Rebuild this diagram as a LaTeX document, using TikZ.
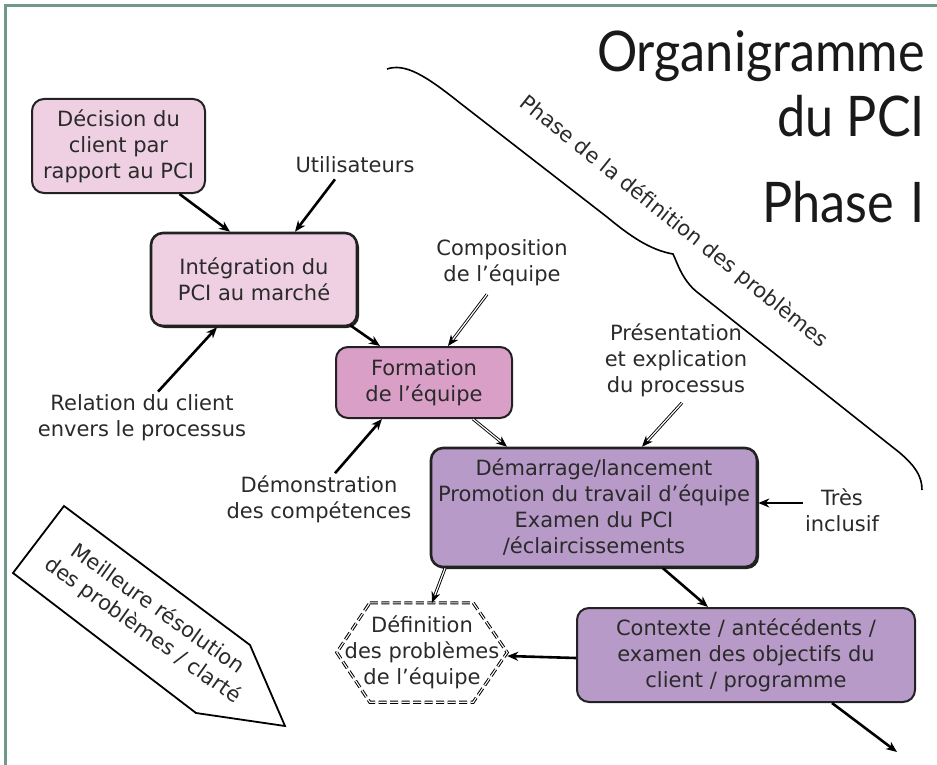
\documentclass[tikz,border=0pt]{standalone}
\usepackage{fontspec}
\setmainfont{DejaVu Sans}
\newfontfamily\titlefont{Lato}
\usetikzlibrary{arrows.meta,calc,shadows}
\definecolor{frm}{HTML}{6F9A8B}
\definecolor{pinkA}{HTML}{EFD0E3}
\definecolor{pinkB}{HTML}{DA9FC7}
\definecolor{purp}{HTML}{B79AC8}
\definecolor{bord}{HTML}{222222}
\definecolor{ink}{HTML}{2A2A2A}
\begin{document}
\begin{tikzpicture}[x=1pt,y=-1pt,
  every node/.style={font=\fontsize{21}{26}\selectfont, text=ink, align=center, inner sep=0pt},
  box/.style={draw=bord, line width=2pt, rounded corners=12pt},
  bbox/.style={box, line width=2.6pt, drop shadow={shadow xshift=2pt, shadow yshift=-2pt, fill=bord, opacity=1}},
  lbl/.style={inner sep=2pt},
  ttl/.style={font=\titlefont\fontsize{56}{60}\selectfont, text=black!90, anchor=base east, xscale=0.9},
  arr/.style={-{Stealth[length=11pt,width=9pt]}, line width=2.6pt},
  darr/.style={-{Stealth[length=11pt,width=9pt]}, double, double distance=1.2pt, line width=0.9pt},
  hexd/.style={double, double distance=1.1pt, line width=1pt, dash pattern=on 8pt off 3.5pt},
  brace/.style={line width=1.6pt},
]
\useasboundingbox (0,0) rectangle (937,765);
% frame
\draw[frm, line width=3pt] (5,765) -- (5,6) -- (937,6);

% title
\node[ttl] (t1) at (925,72) {Organigramme};
\node[ttl] (t2) at (925,137) {du PCI};
\node[ttl] (t3) at (925,222) {Phase\,\,I};

% brace
\draw[brace] (387,69) .. controls (405,63) and (425,75) .. (460,103)
  -- (607,217) .. controls (630,236) and (650,250) .. (673,254)
  .. controls (677,262) and (682,280) .. (697,292)
  -- (900,453) .. controls (915,466) and (922,476) .. (922,490);
\node[rotate=-38.7] (bt) at (674,222) {Phase de la définition des problèmes};

% boxes
\node[box, fill=pinkA, minimum width=173pt, minimum height=94pt] (b1) at (118.5,146) {Décision du\\client par\\rapport au PCI};
\node[bbox, fill=pinkA, minimum width=206pt, minimum height=93pt] (b2) at (254,279.5) {Intégration du\\PCI au marché};
\node[box, fill=pinkB, minimum width=176pt, minimum height=71pt] (b3) at (424,382.5) {Formation\\de l’équipe};
\node[bbox, fill=purp, minimum width=326pt, minimum height=119pt] (b4) at (594,507.5) {Démarrage/lancement\\Promotion du travail d’équipe\\Examen du PCI\\/éclaircissements};
\node[box, fill=purp, minimum width=338pt, minimum height=94pt] (b5) at (746,655) {Contexte / antécédents /\\examen des objectifs du\\client / programme};

% hexagon
\node[minimum width=170pt, minimum height=99pt] (hx) at (422,652.5) {Définition\\des problèmes\\de l’équipe};
\draw[hexd] ($(hx.north west)+(33,0)$) -- ($(hx.north east)+(-34,0)$) -- (hx.east)
  -- ($(hx.south east)+(-34,0)$) -- ($(hx.south west)+(33,0)$) -- (hx.west) -- cycle;

% labels
\node[lbl] (util) at (355,165) {Utilisateurs};
\node[lbl] (comp) at (502,263) {Composition\\de l’équipe};
\node[lbl] (pres) at (676,360) {Présentation\\et explication\\du processus};
\node[lbl] (rel) at (142,418) {Relation du client\\envers le processus};
\node[lbl] (dem) at (319,499) {Démonstration\\des compétences};
\node[lbl] (tres) at (842,510) {Très\\inclusif};

% big hollow arrow
\draw[line width=1.8pt, fill=white] (64,506) -- (13,573) -- (196,713) -- (285,726) -- (250,645) -- cycle;
\node[rotate=-35.5] (ba) at (150,620) {Meilleure résolution\\des problèmes / clarté};

% connectors
\draw[arr] ([xshift=61pt]b1.south) -- ([xshift=-24pt]b2.north);
\draw[arr] ([xshift=-20pt,yshift=-4pt]util.south) -- ([xshift=41pt]b2.north);
\draw[arr] ([xshift=16pt,yshift=1pt]rel.north) -- ([xshift=-37pt]b2.south);
\draw[arr] ([xshift=-8pt,yshift=2pt]b2.south east) -- ([xshift=-44pt]b3.north);
\draw[darr] ([xshift=-15pt,yshift=-6pt]comp.south) -- ([xshift=24pt]b3.north);
\draw[arr] ([xshift=16pt]dem.north) -- ([xshift=-42pt]b3.south);
\draw[darr] ([xshift=49pt]b3.south) -- ([xshift=-87pt]b4.north);
\draw[darr] ([xshift=6pt,yshift=-4pt]pres.south) -- ([xshift=48pt]b4.north);
\draw[arr] ([yshift=7pt]tres.west) -- ([yshift=4.5pt]b4.east);
\draw[arr] ([xshift=69pt]b4.south) -- ([xshift=-38pt]b5.north);
\draw[darr] ([xshift=-149pt]b4.south) -- ([xshift=10pt]hx.north);
\draw[arr] ([yshift=-3pt]b5.west) -- ([yshift=-3.5pt]hx.east);
\coordinate (endp) at (897,752);
\draw[arr] ([xshift=86pt]b5.south) -- (endp);
\end{tikzpicture}
\end{document}
